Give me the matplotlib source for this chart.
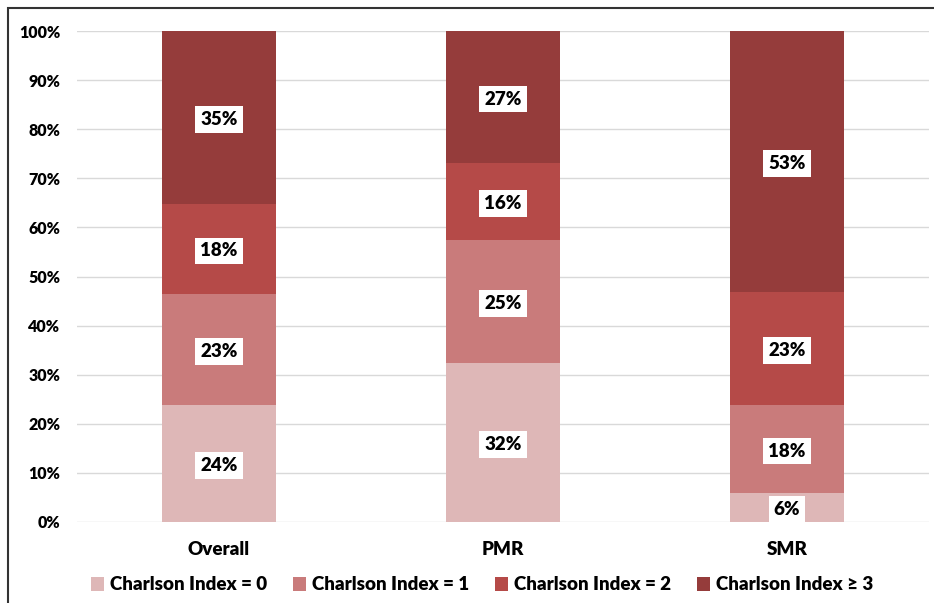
import numpy as np
import matplotlib.pyplot as plt
from matplotlib.patches import Rectangle

plt.rcParams['font.family'] = ['Lato', 'DejaVu Sans']
plt.rcParams['font.weight'] = 'heavy'

groups = ["Overall", "PMR", "SMR"]
series = ["Charlson Index = 0", "Charlson Index = 1", "Charlson Index = 2", "Charlson Index \u2265 3"]
ci0 = [23.8, 32.4, 5.9]
ci1 = [22.6, 25.0, 17.9]
ci2 = [18.4, 15.7, 23.0]
ci3 = [35.2, 26.9, 53.2]
labels0 = ["24%", "32%", "6%"]
labels1 = ["23%", "25%", "18%"]
labels2 = ["18%", "16%", "23%"]
labels3 = ["35%", "27%", "53%"]
colors = ["#DEB7B7", "#C97B7B", "#B54A48", "#953C3B"]

fig = plt.figure(figsize=(9.34, 6.03), dpi=100)
ax = fig.add_axes([77/934, 1 - 522/603, 852/934, 491/603])

x = np.arange(len(groups))
bottom = np.zeros(len(groups))
for vals, labs, col, name in zip([ci0, ci1, ci2, ci3], [labels0, labels1, labels2, labels3], colors, series):
    vals = np.array(vals)
    ax.bar(x, vals, 0.4, bottom=bottom, color=col, label=name, zorder=2)
    for xi, b, v, lab in zip(x, bottom, vals, labs):
        ax.text(xi, b + v / 2 - 0.4, lab, ha='center', va='center', fontsize=13.5, fontweight='heavy',
                bbox=dict(facecolor='white', edgecolor='none', pad=3.5), zorder=3)
    bottom += vals

ax.set_xlim(-0.5, 2.5)
ax.set_ylim(0, 100)
ax.set_yticks(np.arange(0, 101, 10))
ax.set_yticklabels([f"{v}%" for v in range(0, 101, 10)], fontsize=11.5, fontweight='heavy')
ax.set_xticks(x)
ax.set_xticklabels(groups, fontsize=13.5, fontweight='heavy')
ax.tick_params(axis='both', length=0)
ax.tick_params(axis='y', pad=12)
ax.tick_params(axis='x', pad=14)
ax.grid(axis='y', color='#D9D9D9', linewidth=1, zorder=0)
for s in ax.spines.values():
    s.set_visible(False)

ax.legend(loc='center', bbox_to_anchor=(482/934, 1 - 585/603), bbox_transform=fig.transFigure,
          ncol=4, frameon=False, handlelength=0.7, handleheight=0.7,
          handletextpad=0.3, columnspacing=1.4, prop={'weight': 'heavy', 'size': 13.5})

fig.patches.append(Rectangle((8/934, -0.05), 1.05, 1 - 8/603 + 0.05, transform=fig.transFigure,
                             fill=False, edgecolor='#333333', linewidth=1.5))

fig.savefig("out.png", dpi=100)
